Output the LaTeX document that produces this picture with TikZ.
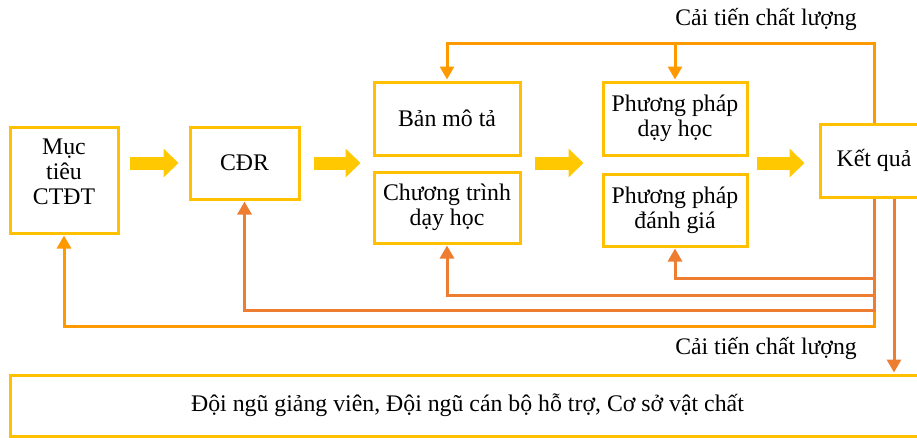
\documentclass[tikz,border=0pt]{standalone}
\usepackage{fontspec}
\setmainfont{Liberation Serif}
\usetikzlibrary{arrows.meta,calc}
\definecolor{boxgold}{HTML}{FFC000}
\definecolor{flowyel}{HTML}{FFC800}
\definecolor{loopor}{HTML}{FF9900}
\definecolor{fbdark}{HTML}{ED7D31}

\begin{document}
\begin{tikzpicture}[x=1pt,y=-1pt,
  stage/.style={draw=boxgold, line width=3pt, fill=white, align=center,
    inner sep=0pt, font=\fontsize{23.8}{25}\selectfont},
  flow/.style={draw=flowyel, line width=13pt,
    -{Triangle[length=15pt,width=28pt]}},
  looparrow/.style={draw=loopor, line width=3pt,
    -{Triangle[length=13pt,width=14pt]}, shorten >=1pt},
  fbarrow/.style={draw=fbdark, line width=3pt,
    -{Triangle[length=13pt,width=14pt]}, shorten >=1pt},
  lbl/.style={font=\fontsize{23.7}{25}\selectfont, inner sep=0pt, anchor=base}]

\useasboundingbox (0,0) rectangle (917,437);

% stage boxes
\node[stage, minimum width=108pt, minimum height=106pt, text depth=16pt] (goal) at (64,180) {Mục\\tiêu\\CTĐT};
\node[stage, minimum width=109pt, minimum height=72pt] (cdr) at (244.5,163) {CĐR};
\node[stage, minimum width=146pt, minimum height=73pt] (desc) at (447,118.5) {Bản mô tả};
\node[stage, minimum width=146pt, minimum height=71pt] (prog) at (447,207.5) {Chương trình\\dạy học};
\node[stage, minimum width=144pt, minimum height=73pt] (teach) at (675,118.5) {Phương pháp\\dạy học};
\node[stage, minimum width=144pt, minimum height=72pt] (assess) at (675,210) {Phương pháp\\đánh giá};
\node[stage, minimum width=108pt, minimum height=73pt] (result) at (874,160.5) {Kết quả};
\node[stage, minimum width=915pt, minimum height=61pt] (staff) at (467.5,405.5)
  {Đội ngũ giảng viên, Đội ngũ cán bộ hỗ trợ, Cơ sở vật chất};

% main flow arrows
\draw[flow, shorten <=10pt, shorten >=10pt] (goal.east |- 0,163) -- (cdr.west |- 0,163);
\draw[flow, shorten <=13pt, shorten >=12pt] (cdr.east |- 0,163) -- (desc.west |- 0,163);
\draw[flow, shorten <=13pt, shorten >=18pt] (desc.east |- 0,163) -- (teach.west |- 0,163);
\draw[flow, shorten <=8pt, shorten >=14pt] (teach.east |- 0,163) -- (result.west |- 0,163);

% upper improvement loop
\draw[looparrow] (result.north) -- (result.north |- 0,43) -| (desc.north);
\draw[looparrow] (teach.north |- 0,43) -- (teach.north);

% lower improvement loops
\draw[looparrow] (result.south) -- (result.south |- 0,326) -| (goal.south);
\draw[fbarrow] (result.south) -- (result.south |- 0,310) -| (cdr.south);
\draw[fbarrow] (result.south) -- (result.south |- 0,295) -| (prog.south);
\draw[fbarrow] (result.south) -- (result.south |- 0,278) -| (assess.south);

% resources arrow
\draw[fbarrow] (result.south -| 894,0) -- (staff.north -| 894,0);

% labels
\node[lbl] (uplabel) at (766,25) {Cải tiến chất lượng};
\node[lbl] (lowlabel) at (766,354) {Cải tiến chất lượng};
\end{tikzpicture}
\end{document}
